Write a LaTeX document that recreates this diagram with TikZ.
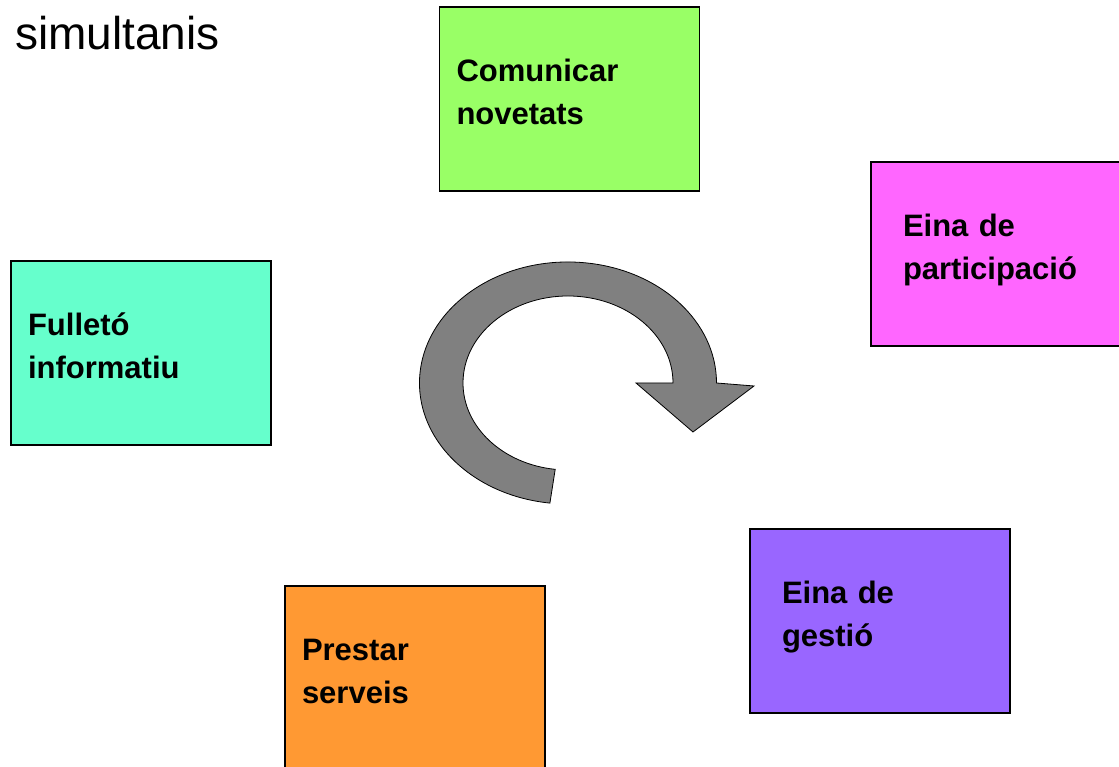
\documentclass[tikz,border=0pt]{standalone}
\usepackage{fontspec}
\setmainfont{Liberation Sans}
\definecolor{verdclar}{HTML}{99FF66}
\definecolor{rosa}{HTML}{FF66FF}
\definecolor{aiguamarina}{HTML}{66FFCC}
\definecolor{lila}{HTML}{9966FF}
\definecolor{taronja}{HTML}{FF9933}
\definecolor{gris}{HTML}{808080}
\tikzset{
	caixa/.style={
		rectangle,
		draw=black, line width=1.5pt,
		minimum width=260pt,
		minimum height=184pt,
		inner ysep=0pt, inner xsep=17pt,
		text width=226pt,
		text height=75pt, text depth=109pt,
		align=left,
		font=\bfseries\fontsize{31}{43}\selectfont},
	caixaample/.style={inner xsep=32pt, text width=196pt},
	fletxa/.style={fill=gris, draw=black, line width=0.8pt},
	titol/.style={font=\fontsize{46}{55}\selectfont, inner sep=0pt, anchor=base west},
}
\begin{document}
\begin{tikzpicture}[x=1pt,y=1pt]
	\fill[white] (0,0) rectangle (1119,767);
	\useasboundingbox (0,0) rectangle (1119,767);
	\clip (0,0) rectangle (1119,767);
	\node[titol] (titol) at (15,717) {simultanis};
	\node[caixa, fill=verdclar] (comunicar) at (569.5,668) {Comunicar\\novetats};
	\node[caixa, caixaample, fill=rosa] (participacio) at (1001,513) {Eina de\\participació};
	\node[caixa, fill=aiguamarina] (fulleto) at (141,414) {Fulletó\\informatiu};
	\node[caixa, caixaample, fill=lila] (gestio) at (880,146) {Eina de\\gestió};
	\node[caixa, fill=taronja] (serveis) at (415,89) {Prestar\\serveis};
	% fletxa circular
	\path[fletxa] (568,384) ++(263:148.5pt and 121pt)
		arc[start angle=263, end angle=0, x radius=148.5pt, y radius=121pt]
		-- (754,381) -- (693,335) -- (636,384) -- (673,384)
		arc[start angle=0, end angle=263, x radius=105pt, y radius=87pt] -- cycle;
\end{tikzpicture}
\end{document}
